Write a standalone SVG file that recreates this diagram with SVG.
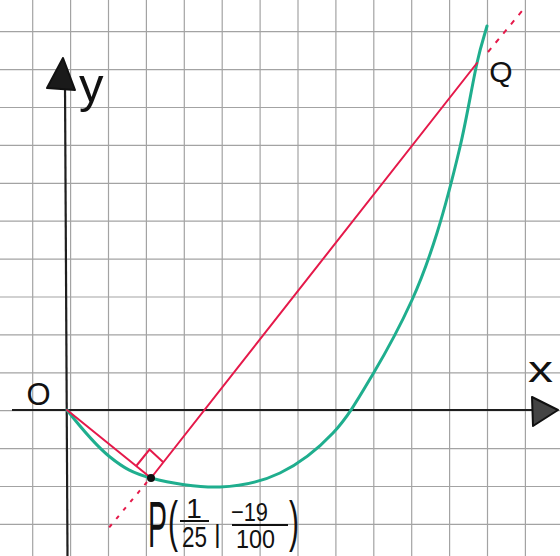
<svg xmlns="http://www.w3.org/2000/svg" width="560" height="556" viewBox="0 0 560 556">
<style>
.grid line{stroke:#a3a3a3;stroke-width:1.2}
.axis{stroke:#1e1e1e;stroke-width:2.2;fill:none}
.head{stroke:#111;stroke-width:2;fill:#1a1a1a;stroke-linejoin:round}
.curve{stroke:#1fae8e;stroke-width:3;fill:none;stroke-linecap:round}
.red{stroke:#e5194a;stroke-width:2;fill:none;stroke-linecap:round}
.dash{stroke:#e5194a;stroke-width:2;fill:none;stroke-dasharray:5 7}
.t{font-family:"Liberation Sans",Arial,sans-serif;fill:#111}
</style>
<rect width="560" height="556" fill="#ffffff"/>
<g class="grid">
<line x1="32.7" y1="0" x2="32.7" y2="556"/><line x1="70.6" y1="0" x2="70.6" y2="556"/><line x1="108.5" y1="0" x2="108.5" y2="556"/><line x1="146.4" y1="0" x2="146.4" y2="556"/><line x1="184.3" y1="0" x2="184.3" y2="556"/><line x1="222.2" y1="0" x2="222.2" y2="556"/><line x1="260.1" y1="0" x2="260.1" y2="556"/><line x1="298" y1="0" x2="298" y2="556"/><line x1="335.9" y1="0" x2="335.9" y2="556"/><line x1="373.8" y1="0" x2="373.8" y2="556"/><line x1="411.7" y1="0" x2="411.7" y2="556"/><line x1="449.6" y1="0" x2="449.6" y2="556"/><line x1="487.5" y1="0" x2="487.5" y2="556"/><line x1="525.4" y1="0" x2="525.4" y2="556"/>
<line x1="0" y1="31.7" x2="560" y2="31.7"/><line x1="0" y1="69.6" x2="560" y2="69.6"/><line x1="0" y1="107.5" x2="560" y2="107.5"/><line x1="0" y1="145.4" x2="560" y2="145.4"/><line x1="0" y1="183.3" x2="560" y2="183.3"/><line x1="0" y1="221.2" x2="560" y2="221.2"/><line x1="0" y1="259.1" x2="560" y2="259.1"/><line x1="0" y1="297" x2="560" y2="297"/><line x1="0" y1="334.9" x2="560" y2="334.9"/><line x1="0" y1="372.8" x2="560" y2="372.8"/><line x1="0" y1="410.7" x2="560" y2="410.7"/><line x1="0" y1="448.6" x2="560" y2="448.6"/><line x1="0" y1="486.5" x2="560" y2="486.5"/><line x1="0" y1="524.4" x2="560" y2="524.4"/>
</g>
<g id="axes">
<line class="axis" x1="12" y1="410" x2="546" y2="410"/>
<line class="axis" x1="65" y1="84" x2="67.5" y2="556"/>
<polygon class="head" points="532,397 558,410 533,426" style="fill:#444"/>
<polygon class="head" points="63,58 47,88 75,90"/>
</g>
<g id="curve">
<path class="curve" d="M67,410 C78,424 96,445.7 110,457 C124,468.3 132.7,473 151,478 C169.3,483 198.5,487.8 220,487 C241.5,486.2 261.2,482 280,473 C298.8,464 317.5,449.5 333,433 C348.5,416.5 359.8,396.2 373,374 C386.2,351.8 401.3,323.5 412,300 C422.7,276.5 429,258.5 437,233 C445,207.5 453.3,175.3 460,147 C466.7,118.7 472.5,83.2 477,63 C481.5,42.8 483.7,38.3 487,26"/>
</g>
<g id="connectors">
<line class="red" x1="67" y1="410" x2="151" y2="478"/>
<line class="red" x1="151" y1="478" x2="477" y2="63"/>
<line class="dash" x1="488" y1="52" x2="522" y2="11"/>
<line class="dash" x1="147" y1="482" x2="107" y2="530" style="stroke-dasharray:4 7"/>
<polyline class="red" points="137,465 149.5,449.5 163,462"/>
</g>
<g id="node-O">
<text class="t" x="38.5" y="405" font-size="31" text-anchor="middle">O</text>
</g>
<g id="node-P">
<circle cx="151" cy="478" r="4" fill="#111"/>
<text class="t" x="148" y="547" font-size="64" textLength="19" lengthAdjust="spacingAndGlyphs">P</text>
<text class="t" x="168" y="540" font-size="56" textLength="10" lengthAdjust="spacingAndGlyphs">(</text>
<text class="t" x="194" y="518" font-size="28" text-anchor="middle">1</text>
<line x1="180" y1="521" x2="209" y2="521" stroke="#111" stroke-width="2"/>
<text class="t" x="182" y="547" font-size="29" textLength="25" lengthAdjust="spacingAndGlyphs">25</text>
<text class="t" x="214" y="543" font-size="26">|</text>
<text class="t" x="231" y="521" font-size="26" textLength="37" lengthAdjust="spacingAndGlyphs">−19</text>
<line x1="232" y1="525" x2="288" y2="525" stroke="#111" stroke-width="2"/>
<text class="t" x="236" y="548" font-size="25" textLength="39" lengthAdjust="spacingAndGlyphs">100</text>
<text class="t" x="289" y="540" font-size="56" textLength="10" lengthAdjust="spacingAndGlyphs">)</text>
</g>
<g id="node-Q">
<text class="t" x="501" y="82" font-size="30" text-anchor="middle">Q</text>
</g>
<g id="label-x">
<text class="t" x="528" y="382" font-size="36" textLength="25" lengthAdjust="spacingAndGlyphs">x</text>
</g>
<g id="label-y">
<text class="t" x="79" y="102" font-size="49">y</text>
</g>
</svg>
